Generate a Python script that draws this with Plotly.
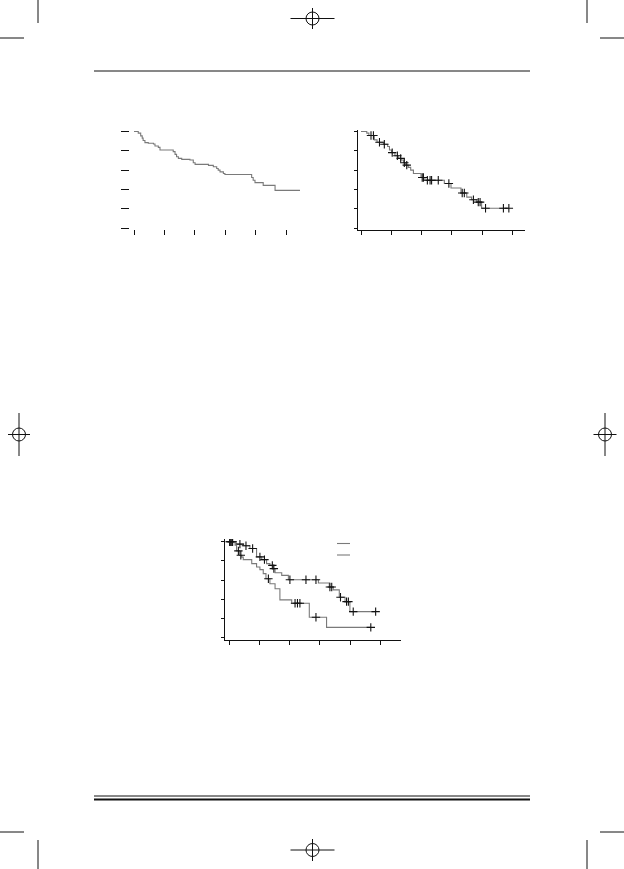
import plotly.graph_objects as go

# ---- Kaplan-Meier data (time in years, survival proportion) ----
# Figure A: overall survival, no censoring marks
a_time = [0.14, 0.22, 0.27, 0.30, 0.36, 0.47, 0.64, 0.69, 0.80, 0.855,
          1.29, 1.35, 1.40, 1.46, 1.57, 1.84, 1.95, 2.01, 2.45, 2.61,
          2.72, 2.77, 2.83, 2.94, 2.99, 3.87, 3.92, 3.98, 4.25, 4.64]
a_surv = [0.983, 0.955, 0.931, 0.906, 0.885, 0.878, 0.871, 0.850, 0.836, 0.809,
          0.791, 0.763, 0.739, 0.722, 0.711, 0.704, 0.676, 0.659, 0.649, 0.635,
          0.617, 0.600, 0.582, 0.565, 0.554, 0.523, 0.495, 0.470, 0.442, 0.390]
a_last = 5.46

# Figure B: survival with censored observations
b_time = [0.19, 0.26, 0.44, 0.53, 0.74, 0.88, 0.94, 1.01, 1.12, 1.23,
          1.32, 1.40, 1.47, 1.56, 1.64, 1.73, 1.98, 2.11, 2.75, 2.97,
          3.30, 3.49, 3.65, 3.82, 3.98]
b_surv = [0.983, 0.958, 0.913, 0.889, 0.868, 0.844, 0.809, 0.781, 0.749, 0.722,
          0.704, 0.676, 0.652, 0.628, 0.600, 0.565, 0.523, 0.495, 0.461, 0.415,
          0.362, 0.320, 0.292, 0.268, 0.205]
b_cens = [0.33, 0.41, 0.61, 0.77, 1.03, 1.20, 1.31, 1.43, 1.51, 2.02,
          2.06, 2.19, 2.28, 2.33, 2.55, 2.90, 3.34, 3.41, 3.71, 3.87,
          3.93, 4.11, 4.70, 4.88]

# Figure C: two groups compared
c1_time = [0.23, 0.47, 0.69, 0.91, 1.08, 1.24, 1.35, 1.46, 1.52, 1.74,
           1.96, 2.95, 3.31, 3.44, 3.64, 3.83, 3.99]
c1_surv = [0.976, 0.958, 0.930, 0.842, 0.814, 0.772, 0.754, 0.720, 0.677, 0.649,
           0.604, 0.569, 0.527, 0.498, 0.421, 0.375, 0.270]
c1_cens = [0.02, 0.07, 0.12, 0.36, 0.56, 0.78, 1.02, 1.17, 1.43, 1.48,
           2.01, 2.54, 2.87, 3.33, 3.39, 3.68, 3.88, 3.94, 4.10, 4.84]

c2_time = [0.20, 0.25, 0.35, 0.42, 0.47, 0.75, 0.91, 1.02, 1.13, 1.22,
           1.35, 1.52, 1.68, 2.07, 2.65, 3.22]
c2_surv = [0.965, 0.905, 0.860, 0.840, 0.814, 0.772, 0.737, 0.709, 0.667, 0.614,
           0.561, 0.509, 0.393, 0.358, 0.211, 0.106]
c2_cens = [0.04, 0.10, 0.31, 0.39, 1.30, 2.18, 2.26, 2.34, 2.87, 4.68]

x_ticks = [0, 1, 2, 3, 4, 5]
y_ticks = [0, 0.2, 0.4, 0.6, 0.8, 1.0]

W, H = 624, 869
CURVE = "#7a7a7a"
INK = "#111111"


def step_xy(times, surv, last):
    xs = [0] + list(times) + [last]
    ys = [1.0] + list(surv) + [surv[-1]]
    return xs, ys


def surv_at(times, surv, t):
    s = 1.0
    for ti, si in zip(times, surv):
        if ti <= t:
            s = si
    return s


def frame(xl, xr, x0, xu, yb, yt, y0, yu):
    """Domain/range from the panel's pixel box and its origin/scale."""
    return dict(
        xdom=[xl / W, xr / W], xrng=[(xl - x0) / xu, (xr - x0) / xu],
        ydom=[1 - yb / H, 1 - yt / H], yrng=[(y0 - yb) / yu, (y0 - yt) / yu],
    )


fig = go.Figure()


def add_curve(times, surv, last, xa, ya, cens=None):
    xs, ys = step_xy(times, surv, last)
    fig.add_trace(go.Scatter(x=xs, y=ys, mode="lines", line_shape="hv",
                             line=dict(color=CURVE, width=1.1),
                             xaxis=xa, yaxis=ya, showlegend=False,
                             hoverinfo="skip"))
    if cens:
        fig.add_trace(go.Scatter(
            x=cens, y=[surv_at(times, surv, t) for t in cens], mode="markers",
            marker=dict(symbol="cross-thin", size=6,
                        line=dict(color=INK, width=1.1)),
            xaxis=xa, yaxis=ya, showlegend=False, hoverinfo="skip"))


add_curve(a_time, a_surv, a_last, "x", "y")
add_curve(b_time, b_surv, max(b_cens), "x2", "y2", b_cens)
add_curve(c1_time, c1_surv, max(c1_cens), "x3", "y3", c1_cens)
add_curve(c2_time, c2_surv, max(c2_cens), "x3", "y3", c2_cens)

panels = [
    (frame(130, 305, 134, 30.4, 229, 128, 228, 96.5), False, 8, 5),
    (frame(357.5, 525, 361, 30.3, 230, 129.5, 228, 96.5), True, 3, 4),
    (frame(224.5, 401, 229, 30.3, 639.5, 539, 637.5, 95.7), True, 3, 4),
]

layout = dict(width=W, height=H, margin=dict(l=0, r=0, t=0, b=0),
              paper_bgcolor="white", plot_bgcolor="white", showlegend=False)
for i, (f, line, ylen, xlen) in enumerate(panels, start=1):
    sfx = "" if i == 1 else str(i)
    layout["xaxis" + sfx] = dict(
        domain=f["xdom"], range=f["xrng"], anchor="y" + sfx,
        tickvals=x_ticks, showticklabels=False, ticks="outside",
        ticklen=xlen, tickwidth=1, tickcolor=INK,
        showline=line, linecolor=INK, linewidth=1,
        showgrid=False, zeroline=False, fixedrange=True)
    layout["yaxis" + sfx] = dict(
        domain=f["ydom"], range=f["yrng"], anchor="x" + sfx,
        tickvals=y_ticks, showticklabels=False, ticks="outside",
        ticklen=ylen, tickwidth=1, tickcolor=INK,
        showline=line, linecolor=INK, linewidth=1,
        showgrid=False, zeroline=False, fixedrange=True)

fig.update_layout(**layout)


# ---- page furniture: rules, crop marks, registration marks, legend keys ----
def seg(x0, y0, x1, y1, color=INK, width=1):
    fig.add_shape(type="line", xref="paper", yref="paper",
                  x0=x0 / W, x1=x1 / W, y0=1 - y0 / H, y1=1 - y1 / H,
                  line=dict(color=color, width=width))


def reg_mark(cx, cy, hx, hy, r=6.5):
    seg(cx - hx, cy, cx + hx, cy)
    seg(cx, cy - hy, cx, cy + hy)
    fig.add_shape(type="circle", xref="paper", yref="paper",
                  x0=(cx - r) / W, x1=(cx + r) / W,
                  y0=1 - (cy + r) / H, y1=1 - (cy - r) / H,
                  line=dict(color=INK, width=1))


# header rule and double footer rule
seg(94, 71, 530, 71)
seg(94, 796, 530, 796)
seg(94, 799.5, 530, 799.5, width=2.2)

# crop marks
for x in (38, 587):
    seg(x, 0, x, 23)
    seg(x, 840, x, 869)
for y in (38, 832):
    seg(0, y, 24, y)
    seg(600, y, 624, y)

# registration marks
reg_mark(312.5, 18.5, 22, 10.5)
reg_mark(312.5, 850, 22, 11)
reg_mark(19, 434.5, 11, 21.5)
reg_mark(605, 434.5, 11.5, 21.5)

# legend keys of the two-group panel
seg(337, 543.5, 350, 543.5, color=CURVE, width=1.1)
seg(337, 555, 350, 555, color=CURVE, width=1.1)

fig.write_html("out.html")
